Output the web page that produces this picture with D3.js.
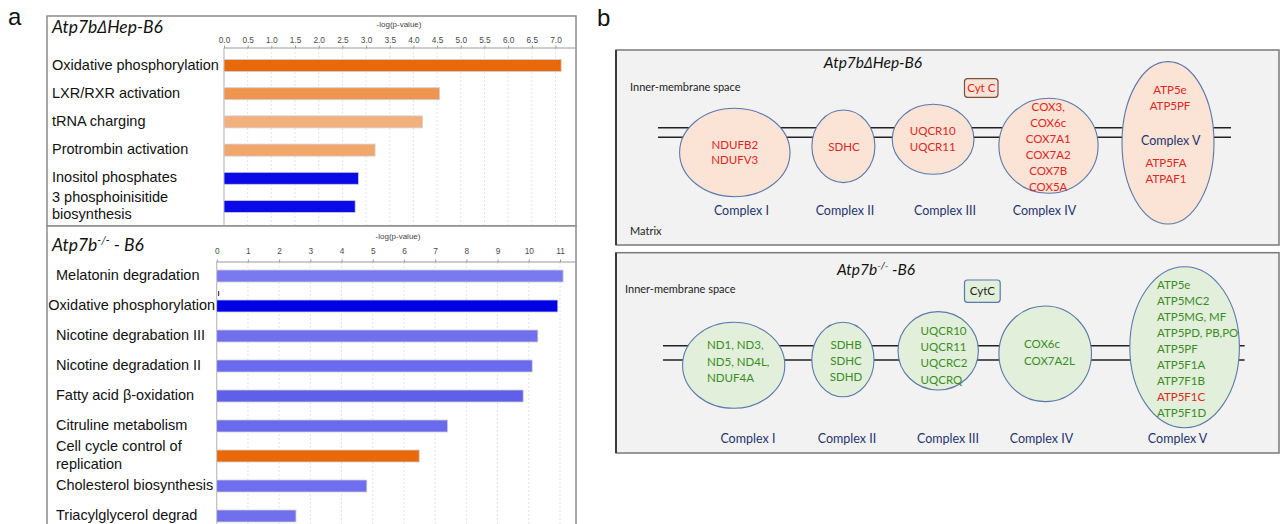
<!DOCTYPE html>
<html><head><meta charset="utf-8">
<script src="https://cdn.jsdelivr.net/npm/d3@7"></script>
<style>body{margin:0;background:#fff}svg{display:block}</style>
</head><body>
<svg id="chart" width="1282" height="524"></svg>
<script>
// ================= DATA =================
// Panel a (top): Atp7bΔHep-B6 pathways
const hepCategories = ["Oxidative phosphorylation", "LXR/RXR activation", "tRNA charging",
  "Protrombin activation", "Inositol phosphates", "3 phosphoinisitide\nbiosynthesis"];
const hepValues = [7.12, 4.55, 4.19, 3.19, 2.84, 2.77];
const hepBarColors = ["#e8690a", "#ee9650", "#f2b07c", "#f1a66c", "#0a0ae8", "#0a0ae8"];
const hepTicks = [0, 0.5, 1, 1.5, 2, 2.5, 3, 3.5, 4, 4.5, 5, 5.5, 6, 6.5, 7];

// Panel a (bottom): Atp7b-/- - B6 pathways
const koCategories = ["Melatonin degradation", "Oxidative phosphorylation", "Nicotine degrabation III",
  "Nicotine degradation II", "Fatty acid β-oxidation", "Citruline metabolism",
  "Cell cycle control of\nreplication", "Cholesterol biosynthesis", "Triacylglycerol degrad"];
const koValues = [11.10, 10.93, 10.29, 10.11, 9.82, 7.40, 6.49, 4.81, 2.54];
const koBarColors = ["#7a7af0", "#0000e6", "#7070ee", "#6a6aee", "#5f5fea", "#6a6aec", "#e8690a", "#6e6eee", "#7070ee"];
const koTicks = [0, 1, 2, 3, 4, 5, 6, 7, 8, 9, 10, 11];

const axisTitle = "-log(p-value)";

// Panel b: electron transport chain complexes
const complexNames = ["Complex I", "Complex II", "Complex III", "Complex IV", "Complex V"];
const hepGenes = [["NDUFB2", "NDUFV3"], ["SDHC"], ["UQCR10", "UQCR11"],
  ["COX3,", "COX6c", "COX7A1", "COX7A2", "COX7B", "COX5A"],
  ["ATP5e", "ATP5PF", "ATP5FA", "ATPAF1"]];
const koGenes = [["ND1, ND3,", "ND5, ND4L,", "NDUF4A"], ["SDHB", "SDHC", "SDHD"],
  ["UQCR10", "UQCR11", "UQCRC2", "UQCRQ"], ["COX6c", "COX7A2L"],
  ["ATP5e", "ATP5MC2", "ATP5MG, MF", "ATP5PD, PB,PO", "ATP5PF", "ATP5F1A", "ATP7F1B", "ATP5F1C", "ATP5F1D"]];
const koRedGenes = ["ATP5F1C"];

// ================= DRAW =================
const svg = d3.select("#chart");
const LAB_FONT = "'Liberation Sans', Arial, sans-serif";
const CAL_FONT = "Lato, 'Open Sans', sans-serif";

// panel letters
svg.append("text").attr("x", 8).attr("y", 25).text("a")
  .attr("font-family", LAB_FONT).attr("font-size", 24).attr("fill", "#111");
svg.append("text").attr("x", 597).attr("y", 26).text("b")
  .attr("font-family", LAB_FONT).attr("font-size", 24).attr("fill", "#111");

// ---------- Panel a ----------
function barPanel(opt) {
  const g = svg.append("g");
  g.append("rect").attr("x", opt.left).attr("y", opt.top).attr("width", opt.right - opt.left)
    .attr("height", opt.bottom - opt.top).attr("fill", "#fff").attr("stroke", "#8c8c8c").attr("stroke-width", 1.5);
  const x = d3.scaleLinear().domain(opt.domain).range([opt.x0, opt.x1]);
  const y = d3.scaleBand().domain(opt.categories).range([opt.y0, opt.y1])
    .paddingInner(opt.pad).paddingOuter(opt.pad / 2);
  // gridlines
  g.selectAll("line.grid").data(opt.ticks.slice(1)).enter().append("line")
    .attr("x1", d => x(d)).attr("x2", d => x(d)).attr("y1", opt.axisY).attr("y2", opt.bottom)
    .attr("stroke", "#dcdcdc").attr("stroke-dasharray", "2,2").attr("stroke-width", 0.8);
  // left axis line
  g.append("line").attr("x1", x(0)).attr("x2", x(0)).attr("y1", opt.axisY).attr("y2", opt.bottom)
    .attr("stroke", "#bdbdbd").attr("stroke-width", 1.2);
  // top axis
  const ax = g.append("g").attr("transform", `translate(0,${opt.axisY})`)
    .call(d3.axisTop(x).tickValues(opt.ticks).tickFormat(opt.fmt).tickSize(2.5).tickPadding(opt.tickPad));
  ax.select(".domain").attr("stroke", "#9a9a9a").attr("d", `M${x(0)},0H${opt.right}`);
  ax.selectAll(".tick line").attr("stroke", "#9a9a9a");
  ax.selectAll(".tick text").attr("font-family", LAB_FONT).attr("font-size", 8.3).attr("fill", "#4a4a4a");
  g.append("text").attr("x", opt.titleX).attr("y", opt.axisTitleY).attr("text-anchor", "middle")
    .attr("font-family", LAB_FONT).attr("font-size", 8).attr("fill", "#444").text(axisTitle);
  // bars
  g.selectAll("rect.bar").data(opt.categories).enter().append("rect")
    .attr("x", x(0)).attr("y", d => y(d)).attr("height", y.bandwidth())
    .attr("width", (d, i) => x(opt.values[i]) - x(0))
    .attr("fill", (d, i) => opt.colors[i]).attr("stroke", "#cfcfd8").attr("stroke-width", 0.8);
  // labels
  opt.categories.forEach((c, i) => {
    const lines = c.split("\n");
    const cy = y(c) + y.bandwidth() / 2 - 1;
    const t = g.append("text").attr("font-family", LAB_FONT).attr("font-size", 14.5).attr("fill", "#111");
    lines.forEach((ln, k) => {
      t.append("tspan").attr("x", opt.labelX).attr("y", cy + (k - (lines.length - 1) / 2) * 17.5)
        .attr("dy", "0.35em").text(ln);
    });
    const w = t.node().getBBox().width;
    const lx = Math.min(opt.labelX, x(0) - 1.5 - w);
    t.selectAll("tspan").attr("x", lx);
  });
  // title
  const tt = g.append("text").attr("x", opt.left + 5).attr("y", opt.titleY)
    .attr("font-family", CAL_FONT).attr("font-style", "italic").attr("font-size", 17.5).attr("fill", "#111");
  opt.title(tt);
  return { x, y, g };
}

barPanel({
  left: 47, right: 576, top: 16, bottom: 226,
  domain: [0, 7], x0: 224, x1: 555.5, axisY: 48, y0: 51.4, y1: 220.6, pad: 0.575,
  categories: hepCategories, values: hepValues, colors: hepBarColors, ticks: hepTicks,
  fmt: d3.format(".1f"), tickPad: 2.5, titleX: 399, axisTitleY: 27, labelX: 52, titleY: 33,
  title: t => { t.append("tspan").text("Atp7b\u2206Hep-B6"); }
});

const ko = barPanel({
  left: 47, right: 576, top: 226, bottom: 534,
  domain: [0, 11], x0: 216.7, x1: 560, axisY: 262, y0: 261, y1: 531, pad: 0.6,
  categories: koCategories, values: koValues, colors: koBarColors, ticks: koTicks,
  fmt: d3.format("d"), tickPad: 5.5, titleX: 398, axisTitleY: 239, labelX: 56, titleY: 251,
  title: t => {
    t.append("tspan").text("Atp7b");
    t.append("tspan").attr("dy", -7).attr("font-size", 11).text("-/-");
    t.append("tspan").attr("dy", 7).text(" - B6");
  }
});
// small tick artefact above the oxidative phosphorylation bar
ko.g.append("line").attr("x1", ko.x(0) + 2).attr("x2", ko.x(0) + 2)
  .attr("y1", ko.y(koCategories[1]) - 9).attr("y2", ko.y(koCategories[1]) - 4)
  .attr("stroke", "#222").attr("stroke-width", 1);

// ---------- Panel b ----------
const RED = "#e0261e", GREEN = "#3a8d25", NAVY = "#1f3470", ELL = "#5a78ad";

function etcPanel(o) {
  const g = svg.append("g");
  g.append("rect").attr("x", 616).attr("y", o.top).attr("width", 663).attr("height", o.bottom - o.top)
    .attr("fill", "#f2f2f2").attr("stroke", "#7a7a7a").attr("stroke-width", 1.5);
  g.append("line").attr("x1", 616).attr("x2", 616).attr("y1", o.top).attr("y2", o.bottom)
    .attr("stroke", "#333").attr("stroke-width", 1.8);
  o.membraneY.forEach(my => g.append("line").attr("x1", o.memX[0]).attr("x2", o.memX[1])
    .attr("y1", my).attr("y2", my).attr("stroke", "#222").attr("stroke-width", 1.6));
  const tt = g.append("text").attr("x", o.titleX).attr("y", o.titleY).attr("text-anchor", "middle")
    .attr("font-family", CAL_FONT).attr("font-style", "italic").attr("font-size", 15.5).attr("fill", "#111");
  o.title(tt);
  g.append("text").attr("x", o.imsX).attr("y", o.imsY).attr("dy", "0.35em").text("Inner-membrane space")
    .attr("font-family", CAL_FONT).attr("font-size", 11).attr("fill", "#222");
  g.append("rect").attr("x", o.cyt.x).attr("y", o.cyt.y).attr("width", o.cyt.w).attr("height", o.cyt.h)
    .attr("rx", 3).attr("fill", o.fill).attr("stroke", o.cyt.stroke).attr("stroke-width", 1.2);
  g.append("text").attr("x", o.cyt.x + o.cyt.w / 2).attr("y", o.cyt.y + o.cyt.h / 2).attr("dy", "0.35em")
    .attr("text-anchor", "middle").attr("font-family", CAL_FONT).attr("font-size", 11.5)
    .attr("fill", o.cyt.color).text(o.cyt.label);
  o.ell.forEach(e => {
    g.append("ellipse").attr("cx", e[0]).attr("cy", e[1]).attr("rx", e[2]).attr("ry", e[3])
      .attr("fill", o.fill).attr("stroke", ELL).attr("stroke-width", 1.1);
  });
  return g;
}

function geneLines(g, genes, x, cy, anchor, colorFn, step = 16) {
  genes.forEach((gn, k) => {
    g.append("text").attr("x", x).attr("y", cy + (k - (genes.length - 1) / 2) * step).attr("dy", "0.35em")
      .attr("text-anchor", anchor).attr("font-family", CAL_FONT).attr("font-size", 11.5)
      .attr("fill", colorFn(gn)).text(gn);
  });
}
function complexLabel(g, name, x, y) {
  g.append("text").attr("x", x).attr("y", y).attr("dy", "0.35em").attr("text-anchor", "middle")
    .attr("font-family", CAL_FONT).attr("font-size", 12.5).attr("fill", NAVY).text(name);
}

// top: Atp7bΔHep-B6
const gt = etcPanel({
  top: 50, bottom: 245, membraneY: [127.7, 137.3], memX: [658, 1231],
  titleX: 873, titleY: 68, title: t => t.text("Atp7b\u2206Hep-B6"), imsX: 630, imsY: 87,
  fill: "#fbe3d5",
  cyt: { x: 964.5, y: 78.7, w: 33.5, h: 18.6, stroke: "#7b5044", color: RED, label: "Cyt C" },
  ell: [[734.8, 152.5, 55.2, 44.2], [843.4, 146.3, 31.5, 36.3], [933.1, 139.3, 40.9, 35],
        [1048.5, 145.8, 49.6, 47.5], [1168, 142.8, 46, 81.2]]
});
const redFn = () => RED;
geneLines(gt, hepGenes[0], 734.8, 152.5, "middle", redFn, 15);
geneLines(gt, hepGenes[1], 844, 146.5, "middle", redFn);
geneLines(gt, hepGenes[2], 932.7, 139.3, "middle", redFn);
geneLines(gt, hepGenes[3], 1048.2, 147, "middle", redFn, 16.1);
geneLines(gt, hepGenes[4].slice(0, 2), 1170, 97.8, "middle", redFn, 15.7);
geneLines(gt, hepGenes[4].slice(2), 1166, 171, "middle", redFn, 15.7);
[741.4, 844.9, 945, 1044.5].forEach((x, i) => complexLabel(gt, complexNames[i], x, 210.7));
complexLabel(gt, complexNames[4], 1170.7, 141);
gt.append("text").attr("x", 630).attr("y", 231).attr("dy", "0.35em").text("Matrix")
  .attr("font-family", CAL_FONT).attr("font-size", 11).attr("fill", "#222");

// bottom: Atp7b-/- -B6
const gb = etcPanel({
  top: 252.7, bottom: 453, membraneY: [345.7, 360], memX: [663, 1244.6],
  titleX: 876, titleY: 275,
  title: t => {
    t.append("tspan").text("Atp7b");
    t.append("tspan").attr("dy", -6).attr("font-size", 10).text("-/-");
    t.append("tspan").attr("dy", 6).text(" -B6");
  },
  imsX: 625, imsY: 289, fill: "#e2efda",
  cyt: { x: 964.5, y: 280, w: 35.7, h: 22.3, stroke: ELL, color: "#222", label: "CytC" },
  ell: [[733.7, 365.3, 51.1, 43], [842.9, 359.5, 31.1, 37.2], [938.2, 350.8, 40.2, 39.2],
        [1045.2, 353.8, 46.3, 47.8], [1184.6, 347.2, 54.8, 80.5]]
});
const greenFn = gn => koRedGenes.includes(gn) ? RED : GREEN;
geneLines(gb, koGenes[0], 707, 361.7, "start", greenFn, 16.7);
geneLines(gb, koGenes[1], 846, 361, "middle", greenFn);
geneLines(gb, koGenes[2], 920.6, 355.3, "start", greenFn, 16.2);
geneLines(gb, koGenes[3], 1024, 352.7, "start", greenFn, 16.7);
geneLines(gb, koGenes[4], 1157, 349.2, "start", greenFn, 16.04);
[747.9, 847, 948, 1041.5, 1177.6].forEach((x, i) => complexLabel(gb, complexNames[i], x, 438.3));
</script>
</body></html>
